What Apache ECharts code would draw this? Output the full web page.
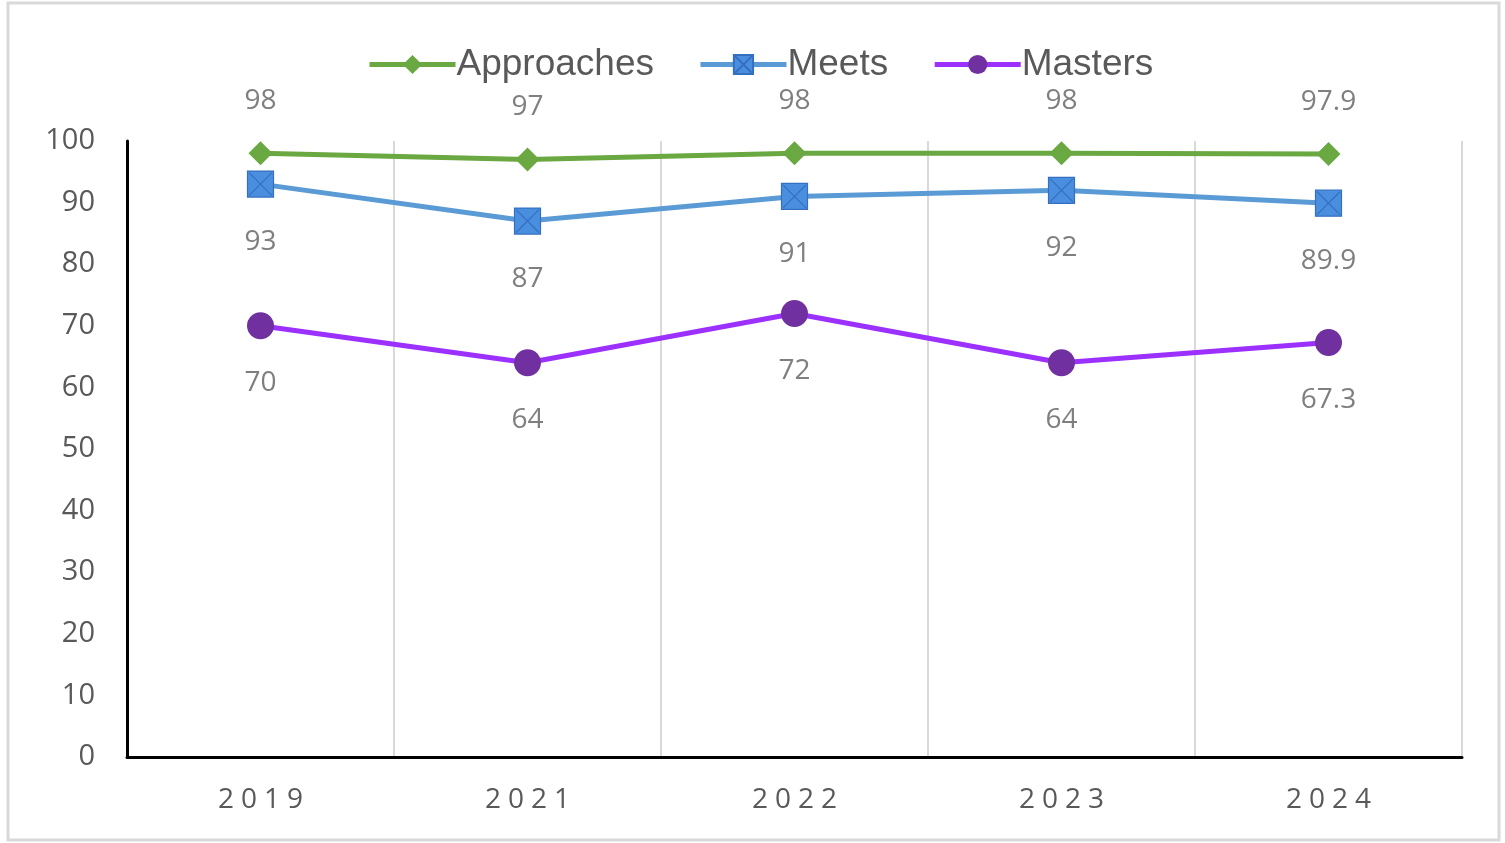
<!DOCTYPE html>
<html>
<head>
<meta charset="utf-8">
<script src="https://cdn.jsdelivr.net/npm/echarts@6/dist/echarts.min.js"></script>
<style>
  html, body { margin: 0; padding: 0; background: #fff; }
  #chart { width: 1505px; height: 843px; }
</style>
</head>
<body>
<div id="chart"></div>
<script>
var years = ['2019', '2021', '2022', '2023', '2024'];
var approaches = [98, 97, 98, 98, 97.9];
var meets = [93, 87, 91, 92, 89.9];
var masters = [70, 64, 72, 64, 67.3];
var yTicks = { min: 0, max: 100, step: 10 };

var myChart = echarts.init(document.getElementById('chart'));

var labelFont = 'Open Sans';
var boxX = 'path://M0,0H10V10H0Z M0.6,0.6L9.4,9.4M9.4,0.6L0.6,9.4';

function dataLabel(pos, dist) {
  return {
    show: true,
    position: pos,
    distance: dist,
    color: '#7f7f7f',
    fontFamily: labelFont,
    fontSize: 28
  };
}

var option = {
  backgroundColor: '#fff',
  animation: false,
  graphic: [{
    type: 'rect',
    shape: { x: 8, y: 3, width: 1491, height: 837 },
    style: { fill: 'none', stroke: '#d9d9d9', lineWidth: 3 },
    silent: true
  }],
  legend: {
    top: 41,
    left: 362,
    itemWidth: 86,
    itemHeight: 24,
    itemGap: 44,
    lineStyle: { width: 5 },
    textStyle: { color: '#595959', fontFamily: 'Liberation Sans', fontSize: 37, padding: [0, 0, 0, -4] },
    data: ['Approaches', 'Meets', 'Masters']
  },
  grid: { left: 127, right: 43, top: 141, bottom: 86 },
  xAxis: {
    type: 'category',
    data: years,
    boundaryGap: true,
    axisLine: { lineStyle: { color: '#000', width: 3 } },
    axisTick: { show: false },
    splitLine: { show: true, lineStyle: { color: '#d9d9d9', width: 2 } },
    axisLabel: {
      color: '#595959',
      fontFamily: labelFont,
      fontSize: 28,
      margin: 29,
      formatter: function (v) { return v.split('').join('\u2005'); }
    }
  },
  yAxis: {
    type: 'value',
    min: yTicks.min,
    max: yTicks.max,
    interval: yTicks.step,
    axisLine: { show: true, lineStyle: { color: '#000', width: 3 } },
    axisTick: { show: false },
    splitLine: { show: false },
    axisLabel: { color: '#595959', fontFamily: labelFont, fontSize: 29, margin: 32 }
  },
  series: [
    {
      name: 'Approaches',
      type: 'line',
      data: approaches,
      symbol: 'diamond',
      symbolSize: 24,
      lineStyle: { color: '#6aa842', width: 5 },
      itemStyle: { color: '#6aa842' },
      label: dataLabel('top', 26),
      z: 3
    },
    {
      name: 'Meets',
      type: 'line',
      data: meets,
      symbol: boxX,
      symbolSize: 26,
      lineStyle: { color: '#5b9bd5', width: 5 },
      itemStyle: { color: '#4a8ee0', borderColor: '#3570c0', borderWidth: 1.2 },
      label: dataLabel('bottom', 30),
      z: 2
    },
    {
      name: 'Masters',
      type: 'line',
      data: masters,
      symbol: 'circle',
      symbolSize: 27,
      lineStyle: { color: '#9b30ff', width: 5 },
      itemStyle: { color: '#7030a0' },
      label: dataLabel('bottom', 30),
      z: 2
    }
  ]
};

myChart.setOption(option);
</script>
</body>
</html>
